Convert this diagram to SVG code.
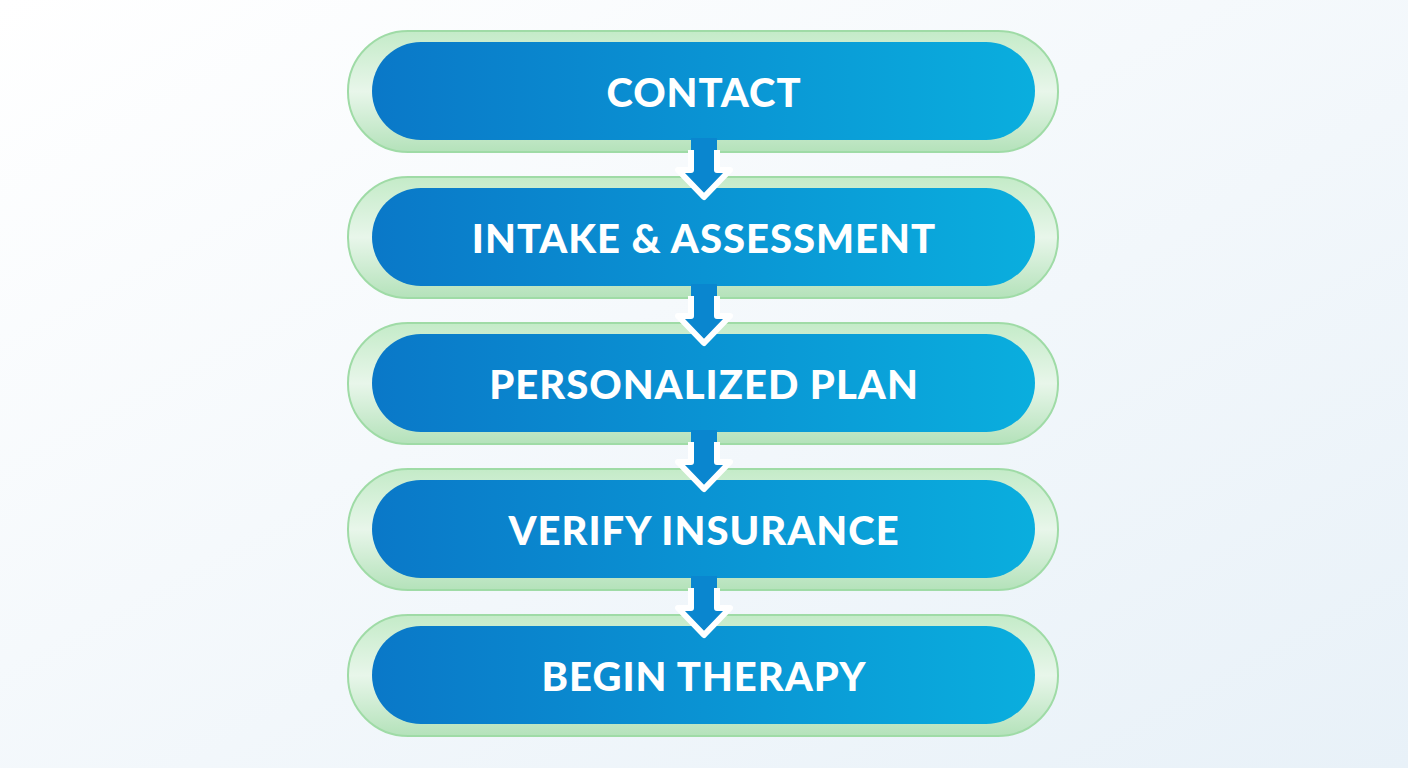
<svg xmlns="http://www.w3.org/2000/svg" width="1408" height="768" viewBox="0 0 1408 768">
<defs>
<linearGradient id="bg" x1="0" y1="0" x2="1" y2="1"><stop offset="0" stop-color="#ffffff"/><stop offset="1" stop-color="#e8f1f8"/></linearGradient>
<linearGradient id="blue" x1="0" y1="0" x2="1" y2="0"><stop offset="0" stop-color="#0a78c8"/><stop offset="1" stop-color="#0aaede"/></linearGradient>
<linearGradient id="green" x1="0" y1="0" x2="0" y2="1"><stop offset="0" stop-color="#c4ebc8"/><stop offset="0.5" stop-color="#e8f6ea"/><stop offset="1" stop-color="#b4e2ba"/></linearGradient>
<style>
.outer{fill:url(#green);stroke:#9fdba6;stroke-width:2}
.inner{fill:url(#blue)}
.t{font-family:Lato,"Open Sans",sans-serif;font-weight:900;font-size:40px;fill:#fff;text-anchor:middle;letter-spacing:1px}
.af{fill:#0a86cf}
.as{fill:none;stroke:#fff;stroke-width:6;stroke-linejoin:round}
</style>
</defs>
<rect width="1408" height="768" fill="url(#bg)"/>
<g id="n1"><rect class="outer" x="348" y="31" width="710" height="121" rx="60"/><rect class="inner" x="372" y="42" width="663" height="98" rx="49"/><text class="t" x="704" y="107">CONTACT</text></g>
<g id="n2"><rect class="outer" x="348" y="177" width="710" height="121" rx="60"/><rect class="inner" x="372" y="188" width="663" height="98" rx="49"/><text class="t" x="704" y="253">INTAKE &amp; ASSESSMENT</text></g>
<g id="n3"><rect class="outer" x="348" y="323" width="710" height="121" rx="60"/><rect class="inner" x="372" y="334" width="663" height="98" rx="49"/><text class="t" x="704" y="399">PERSONALIZED PLAN</text></g>
<g id="n4"><rect class="outer" x="348" y="469" width="710" height="121" rx="60"/><rect class="inner" x="372" y="480" width="663" height="98" rx="49"/><text class="t" x="704" y="545">VERIFY INSURANCE</text></g>
<g id="n5"><rect class="outer" x="348" y="615" width="710" height="121" rx="60"/><rect class="inner" x="372" y="626" width="663" height="98" rx="49"/><text class="t" x="704" y="691">BEGIN THERAPY</text></g>
<g id="connectors">
<g transform="translate(0,0)"><path class="af" d="M691 138 L691 170 L678 170 L704 197 L730 170 L717 170 L717 138 Z"/><path class="as" d="M691 150 L691 170 L678 170 L704 197 L730 170 L717 170 L717 150"/></g>
<g transform="translate(0,146)"><path class="af" d="M691 138 L691 170 L678 170 L704 197 L730 170 L717 170 L717 138 Z"/><path class="as" d="M691 150 L691 170 L678 170 L704 197 L730 170 L717 170 L717 150"/></g>
<g transform="translate(0,292)"><path class="af" d="M691 138 L691 170 L678 170 L704 197 L730 170 L717 170 L717 138 Z"/><path class="as" d="M691 150 L691 170 L678 170 L704 197 L730 170 L717 170 L717 150"/></g>
<g transform="translate(0,438)"><path class="af" d="M691 138 L691 170 L678 170 L704 197 L730 170 L717 170 L717 138 Z"/><path class="as" d="M691 150 L691 170 L678 170 L704 197 L730 170 L717 170 L717 150"/></g>
</g>
</svg>
